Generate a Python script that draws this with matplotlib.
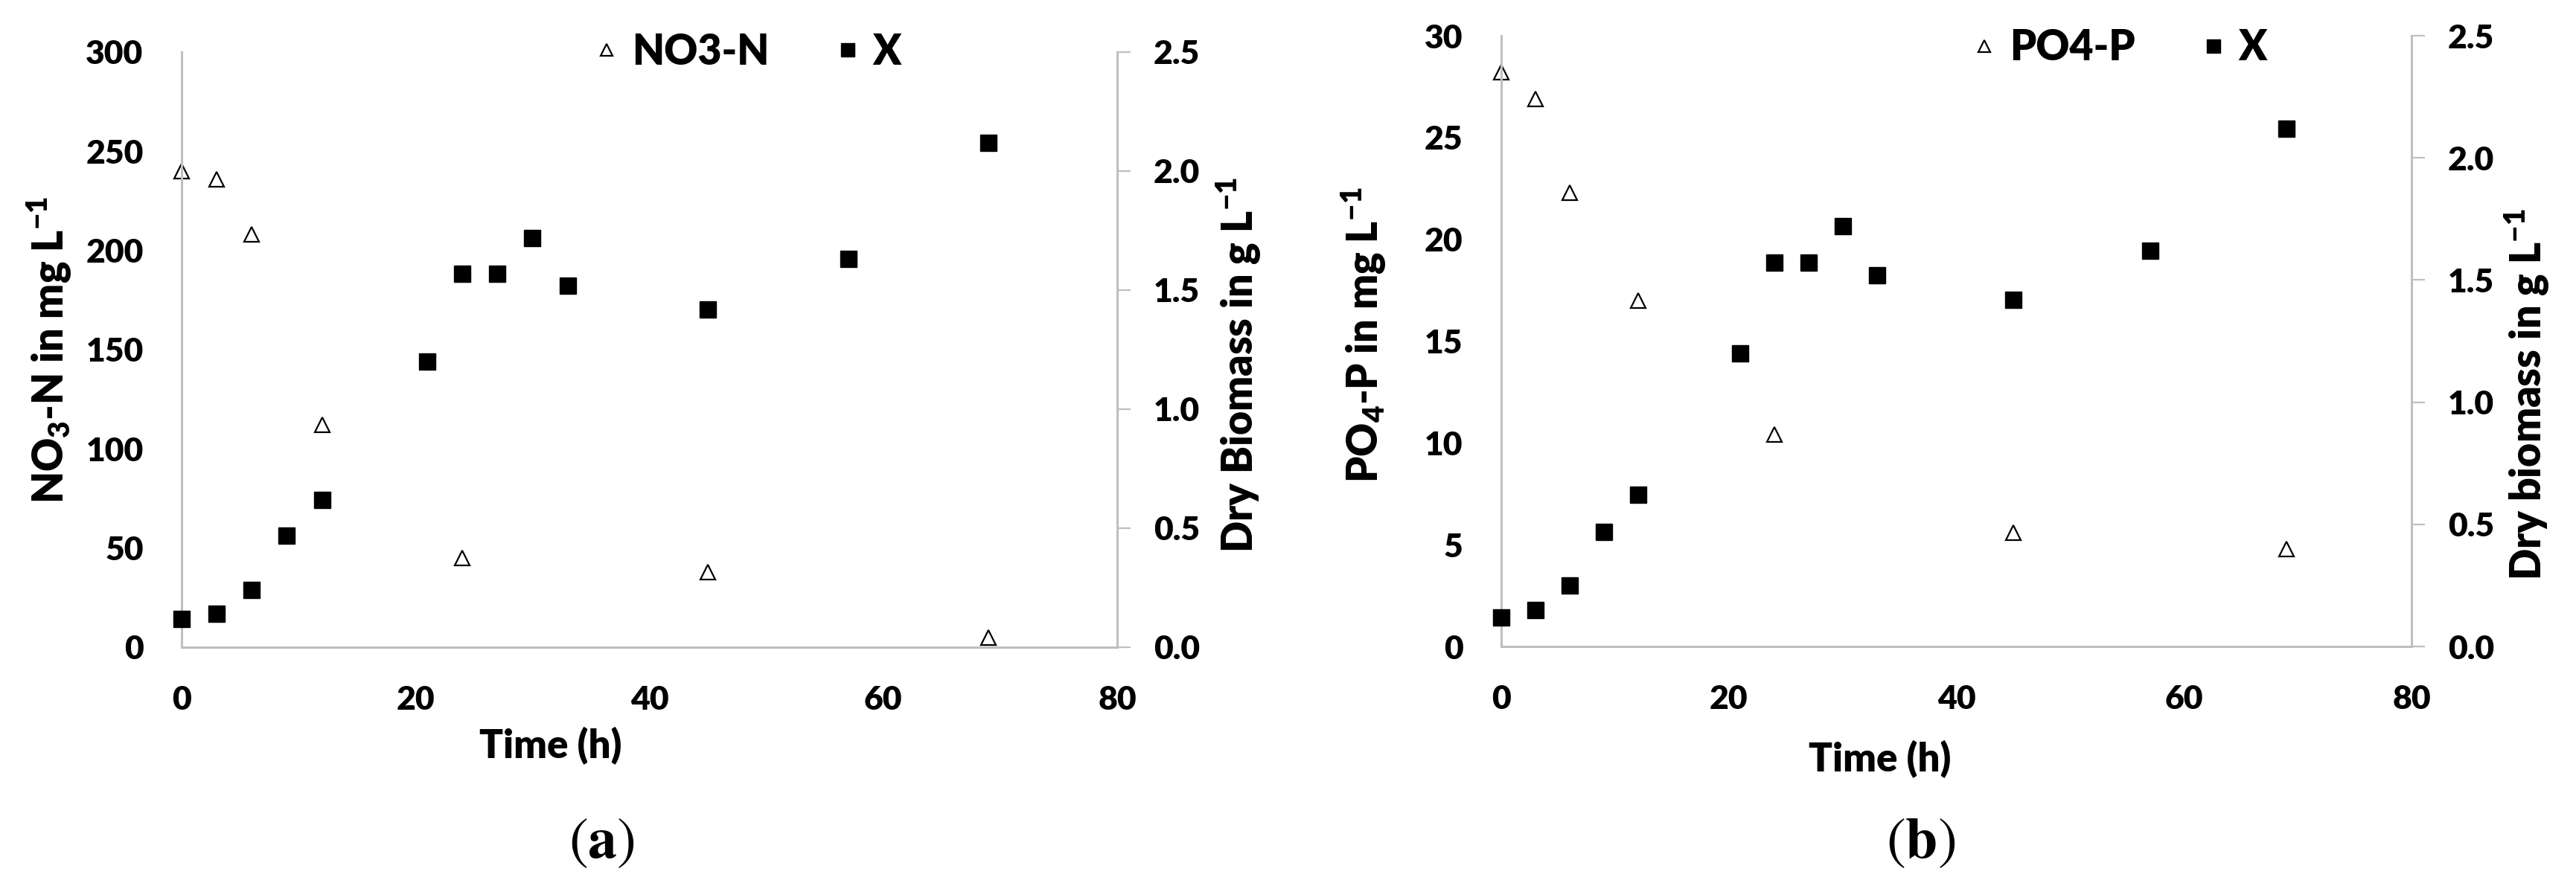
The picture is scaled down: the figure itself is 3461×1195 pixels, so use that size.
import matplotlib
matplotlib.use("Agg")
import matplotlib.pyplot as plt

plt.rcParams['font.family'] = ['Lato', 'DejaVu Sans']
plt.rcParams['font.weight'] = 'heavy'
plt.rcParams['mathtext.fontset'] = 'custom'
plt.rcParams['mathtext.default'] = 'regular'
plt.rcParams['mathtext.bf'] = 'STIXGeneral:bold'

# data
time_n = [0, 3, 6, 12, 24, 45, 69]
no3_n = [240, 236, 208, 112, 45, 38, 5]
time_x = [0, 3, 6, 9, 12, 21, 24, 27, 30, 33, 45, 57, 69]
biomass_a = [0.12, 0.14, 0.24, 0.47, 0.62, 1.20, 1.57, 1.57, 1.72, 1.52, 1.42, 1.63, 2.12]
time_p = [0, 3, 6, 12, 24, 45, 69]
po4_p = [28.2, 26.9, 22.3, 17.0, 10.4, 5.6, 4.8]
biomass_b = [0.12, 0.15, 0.25, 0.47, 0.62, 1.20, 1.57, 1.57, 1.72, 1.52, 1.42, 1.62, 2.12]

x_ticks = [0, 20, 40, 60, 80]
ticks_n = [0, 50, 100, 150, 200, 250, 300]
ticks_p = [0, 5, 10, 15, 20, 25, 30]
ticks_bio = [0.0, 0.5, 1.0, 1.5, 2.0, 2.5]

GRAY = '#BFBFBF'
TICK_FS = 32
LAB_FS = 40
W = 'heavy'

fig = plt.figure(figsize=(34.61, 11.95), dpi=100)


def panel(rect, tx, ty, tlabel, ylim, yticks, bio, ylabel_left, ylabel_right,
          xlab_pos, rlab_pos, llab_pos, leg_pos):
    ax = fig.add_axes(rect)
    ax2 = ax.twinx()
    ax.set_zorder(1)
    ax2.set_zorder(2)
    ax.patch.set_visible(False)
    ax2.patch.set_visible(False)

    ax.plot(tx, ty, linestyle='none', marker='^', markersize=15,
            markerfacecolor='white', markeredgecolor='black',
            markeredgewidth=1.6, label=tlabel, clip_on=False)
    ax2.plot(time_x, bio, linestyle='none', marker='s', markersize=16,
             color='black', label='X', clip_on=False)

    ax.set_xlim(0, 80)
    ax.set_ylim(*ylim)
    ax.set_xticks(x_ticks)
    ax.set_yticks(yticks)
    ax2.set_ylim(0, 2.5)
    ax2.set_yticks(ticks_bio)
    ax2.set_yticklabels([f"{v:.1f}" for v in ticks_bio])

    for s in ['top', 'right']:
        ax.spines[s].set_visible(False)
    for s in ['left', 'bottom']:
        ax.spines[s].set_color(GRAY)
        ax.spines[s].set_linewidth(2.2)
    for s in ['top', 'left', 'bottom']:
        ax2.spines[s].set_visible(False)
    ax2.spines['right'].set_color(GRAY)
    ax2.spines['right'].set_linewidth(2.2)

    ax.tick_params(axis='both', length=0, labelsize=TICK_FS, pad=37)
    ax2.tick_params(axis='y', length=13, width=1.6, color=GRAY,
                    labelsize=TICK_FS, pad=22)
    for lab in ax.get_xticklabels() + ax.get_yticklabels() + ax2.get_yticklabels():
        lab.set_fontweight(W)

    ax.text(xlab_pos[0], xlab_pos[1], 'Time (h)', transform=ax.transAxes,
            ha='center', va='center', fontsize=38, fontweight=W)
    ax.text(llab_pos[0], llab_pos[1], ylabel_left, transform=ax.transAxes,
            ha='center', va='center', rotation=90, fontsize=LAB_FS,
            fontweight=W)
    ax.text(rlab_pos[0], rlab_pos[1], ylabel_right, transform=ax.transAxes,
            ha='center', va='center', rotation=90, fontsize=LAB_FS,
            fontweight=W)

    h1, l1 = ax.get_legend_handles_labels()
    h2, l2 = ax2.get_legend_handles_labels()
    leg = ax2.legend(h1 + h2, l1 + l2, loc='center', bbox_to_anchor=leg_pos,
                     ncol=2, frameon=False, fontsize=LAB_FS, handlelength=0.6,
                     handletextpad=0.3, columnspacing=1.6, markerscale=0.8)
    for t in leg.get_texts():
        t.set_fontweight(W)
    return ax, ax2


panel([0.0705, 0.2720, 0.3632, 0.6695], time_n, no3_n, 'NO3-N', (0, 300),
      ticks_n, biomass_a, 'NO$_3$-N in mg L$^{-1}$', 'Dry Biomass in g L$^{-1}$',
      (0.394, -0.166), (1.13, 0.474), (-0.141, 0.5), (0.605, 1.0))

panel([0.5828, 0.2728, 0.3534, 0.6870], time_p, po4_p, 'PO4-P', (0, 30),
      ticks_p, biomass_b, 'PO$_4$-P in mg L$^{-1}$', 'Dry biomass in g L$^{-1}$',
      (0.416, -0.185), (1.127, 0.413), (-0.151, 0.51), (0.679, 0.98))

fig.text(0.2335, 0.050, r'($\mathbf{a}$)', ha='center', va='center',
         fontsize=56, family='STIXGeneral', fontweight='normal')
fig.text(0.7455, 0.050, r'($\mathbf{b}$)', ha='center', va='center',
         fontsize=56, family='STIXGeneral', fontweight='normal')

fig.savefig('out.png', dpi=100)
